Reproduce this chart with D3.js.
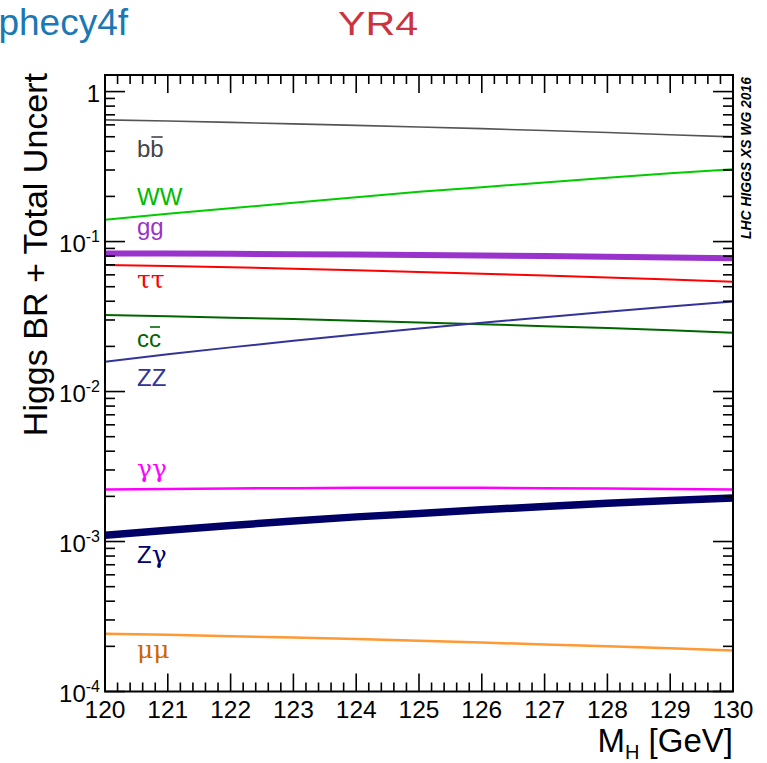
<!DOCTYPE html>
<html><head><meta charset="utf-8">
<script src="https://cdn.jsdelivr.net/npm/d3@7"></script>
<style>html,body{margin:0;padding:0;background:#fff;} svg{display:block;}</style>
</head><body>
<svg id="chart" width="767" height="763"></svg>
<script>
// ---- data ----
const masses   = [120,121,122,123,124,125,126,127,128,129,130];
const brBB     = [0.648,0.636,0.623,0.609,0.595,0.581,0.566,0.550,0.533,0.516,0.499];
const brWW     = [0.1400,0.1530,0.1670,0.1815,0.1975,0.2145,0.2305,0.2480,0.2660,0.2850,0.3040];
const brGG     = [0.0833,0.0831,0.0828,0.0824,0.0819,0.0814,0.0807,0.0800,0.0792,0.0784,0.0775];
const brTauTau = [0.0699,0.0687,0.0674,0.0660,0.0644,0.0627,0.0610,0.0593,0.0575,0.0558,0.0540];
const brCC     = [0.0324,0.0318,0.0311,0.0304,0.0297,0.0289,0.0281,0.0273,0.0265,0.0256,0.0247];
const brZZ     = [0.0158,0.0177,0.0197,0.0218,0.0240,0.0263,0.0288,0.0313,0.0340,0.0369,0.0398];
const brGamGam = [0.00222,0.00224,0.00226,0.00227,0.00228,0.00228,0.00228,0.00227,0.00226,0.00224,0.00222];
const brZGam   = [0.00110,0.00119,0.00128,0.00137,0.00146,0.00154,0.00163,0.00171,0.00180,0.00188,0.00195];
const brMuMu   = [2.43e-4,2.39e-4,2.34e-4,2.29e-4,2.24e-4,2.18e-4,2.12e-4,2.06e-4,2.00e-4,1.94e-4,1.88e-4];
const xTickLabels = ['120','121','122','123','124','125','126','127','128','129','130'];
const yDecadeExponents = [0,-1,-2,-3,-4];

// ---- styles / layout ----
const styles = {
  bb:     {color:'#555555', width:1.6, labelColor:'#444444', lx:137, ly:157},
  WW:     {color:'#00cc00', width:2,   labelColor:'#00bb00', lx:137, ly:205},
  gg:     {color:'#9933cc', width:6,   labelColor:'#9933cc', lx:137, ly:235},
  tautau: {color:'#ff0000', width:2,   labelColor:'#ff0000', lx:137, ly:288},
  cc:     {color:'#006600', width:2,   labelColor:'#006600', lx:137, ly:347},
  ZZ:     {color:'#333399', width:2,   labelColor:'#333399', lx:137, ly:386},
  gamgam: {color:'#ff00ff', width:2.5, labelColor:'#ff00ff', lx:137, ly:477},
  Zgam:   {color:'#000066', width:7.5, labelColor:'#000066', lx:137, ly:563},
  mumu:   {color:'#ff9933', width:2.5, labelColor:'#cc6600', lx:137, ly:658}
};
const series = [
  {key:'bb', values:brBB, label:[{t:'b'},{t:'b',bar:true}]},
  {key:'WW', values:brWW, label:[{t:'WW'}]},
  {key:'tautau', values:brTauTau, label:[{t:'ττ',serif:true}]},
  {key:'cc', values:brCC, label:[{t:'c'},{t:'c',bar:true}]},
  {key:'ZZ', values:brZZ, label:[{t:'ZZ'}]},
  {key:'gamgam', values:brGamGam, label:[{t:'γγ',serif:true}]},
  {key:'mumu', values:brMuMu, label:[{t:'μμ',serif:true}]},
  {key:'gg', values:brGG, label:[{t:'gg'}]},
  {key:'Zgam', values:brZGam, label:[{t:'Z'},{t:'γ',serif:true}]}
];

const SANS = "'Liberation Sans', Arial, Helvetica, sans-serif";
const SERIF = "'DejaVu Serif', 'Liberation Serif', serif";
const L = 105, R = 733, T = 75, B = 691.5;

const svg = d3.select('#chart');
const x = d3.scaleLinear().domain([120,130]).range([L,R]);
const y = d3.scaleLog().domain([1e-4,1.29]).range([B,T]);

// header texts
svg.append('text').attr('x',128).attr('y',35).attr('text-anchor','end')
  .attr('font-family',SANS).attr('font-size',37).attr('fill','#1a78b4').text('Prophecy4f');
svg.append('text').attr('x',338).attr('y',35)
  .attr('font-family',SANS).attr('font-size',34).attr('fill','#cc3340')
  .attr('textLength',80).attr('lengthAdjust','spacingAndGlyphs').text('YR4');

// clip
svg.append('clipPath').attr('id','clip').append('rect')
  .attr('x',L).attr('y',T).attr('width',R-L).attr('height',B-T);

// lines
const line = d3.line().x((d,i)=>x(masses[i])).y(d=>y(d));
const g = svg.append('g').attr('clip-path','url(#clip)');
series.forEach(s=>{
  const st = styles[s.key];
  g.append('path').datum(s.values).attr('d',line)
    .attr('fill','none').attr('stroke',st.color).attr('stroke-width',st.width);
});

// labels
series.forEach(s=>{
  const st = styles[s.key];
  let cx = st.lx;
  s.label.forEach(p=>{
    const t = svg.append('text').attr('x',cx).attr('y',st.ly)
      .attr('font-family', p.serif?SERIF:SANS).attr('font-size', p.serif?25:24)
      .attr('fill',st.labelColor).text(p.t);
    const w = t.node().getComputedTextLength();
    if(p.bar){
      svg.append('line').attr('x1',cx+1).attr('x2',cx+w-1)
        .attr('y1',st.ly-20).attr('y2',st.ly-20)
        .attr('stroke',st.labelColor).attr('stroke-width',1.6);
    }
    cx += w;
  });
});

// ticks
const tickG = svg.append('g').attr('stroke','#000').attr('stroke-width',1.6);
const xMinor = d3.range(0,51).map(i=>120+i*0.2);
xMinor.forEach((v,i)=>{
  const major = i%5===0;
  const len = major?18:9;
  const px = x(v);
  tickG.append('line').attr('x1',px).attr('x2',px).attr('y1',B).attr('y2',B-len);
  tickG.append('line').attr('x1',px).attr('x2',px).attr('y1',T).attr('y2',T+len);
});
for(let d=-4; d<=0; d++){
  for(let k=1;k<=9;k++){
    const v = k*Math.pow(10,d);
    if(v<1e-4-1e-12 || v>1.29) continue;
    const len = k===1?20:10;
    const py = y(v);
    tickG.append('line').attr('x1',L).attr('x2',L+len).attr('y1',py).attr('y2',py);
    tickG.append('line').attr('x1',R).attr('x2',R-len).attr('y1',py).attr('y2',py);
  }
}

// frame
svg.append('rect').attr('x',L).attr('y',T).attr('width',R-L).attr('height',B-T)
  .attr('fill','none').attr('stroke','#000').attr('stroke-width',2);

// x tick labels
xTickLabels.forEach(lbl=>{
  svg.append('text').attr('x',x(+lbl)).attr('y',718).attr('text-anchor','middle')
    .attr('font-family',SANS).attr('font-size',24.5).attr('fill','#000').text(lbl);
});
// y tick labels
yDecadeExponents.forEach(e=>{
  const py = y(Math.pow(10,e));
  const t = svg.append('text').attr('x',100).attr('y',py+10.5).attr('text-anchor','end')
    .attr('font-family',SANS).attr('font-size',24).attr('fill','#000');
  if(e===0){ t.text('1'); }
  else {
    t.append('tspan').text('10');
    t.append('tspan').attr('font-size',16).attr('dy',-10).text(String(e));
  }
});

// axis titles
const xt = svg.append('text').attr('x',733).attr('y',752).attr('text-anchor','end')
  .attr('font-family',SANS).attr('font-size',33).attr('fill','#000');
xt.append('tspan').text('M');
xt.append('tspan').attr('font-size',20).attr('dy',7).text('H');
xt.append('tspan').attr('dy',-7).text(' [GeV]');

svg.append('text').attr('transform','translate(47,73) rotate(-90)').attr('text-anchor','end')
  .attr('font-family',SANS).attr('font-size',34).attr('fill','#000')
  .text('Higgs BR + Total Uncert');

// watermark
svg.append('text').attr('transform','translate(751,239) rotate(-90)')
  .attr('font-family',SANS).attr('font-size',15).attr('font-weight','bold').attr('font-style','italic')
  .attr('fill','#000').attr('textLength',162).attr('lengthAdjust','spacingAndGlyphs')
  .text('LHC HIGGS XS WG 2016');
</script>
</body></html>
